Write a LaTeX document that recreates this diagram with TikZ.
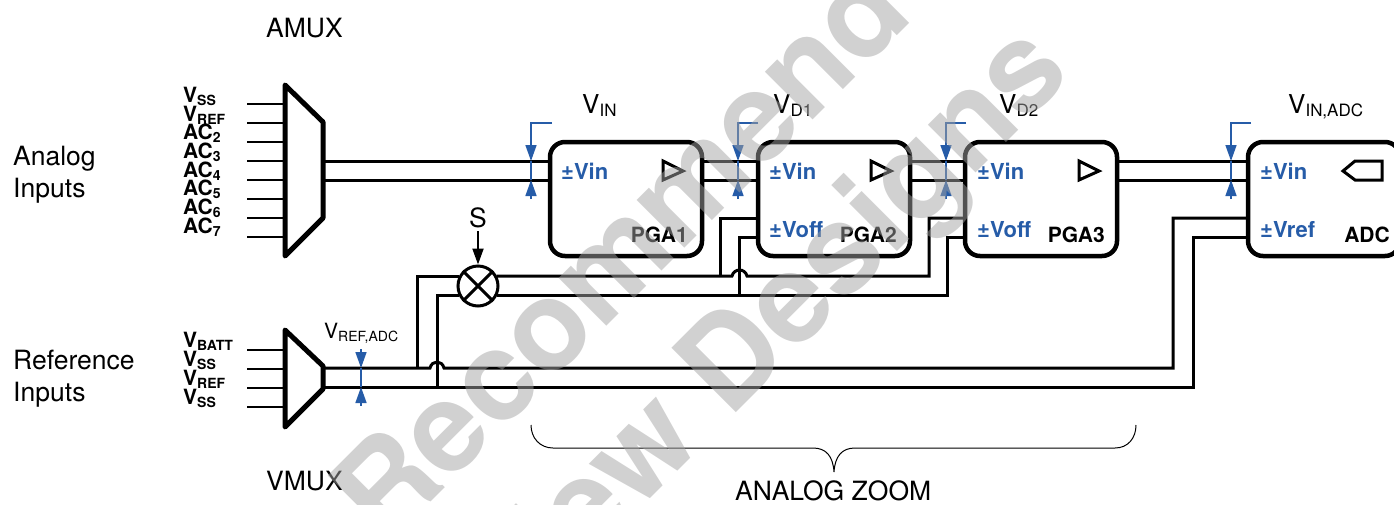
\documentclass[tikz,border=0pt]{standalone}
\usepackage{fontspec}
\setmainfont{TeX Gyre Heros}
\usetikzlibrary{arrows.meta}
\definecolor{senseblue}{RGB}{38,92,168}
\newcommand{\vlab}[4]{\fontsize{#3}{#3}\selectfont #1\raisebox{-3pt}{\fontsize{#4}{#4}\selectfont #2}}
\tikzset{
  txt/.style={anchor=base west,inner sep=0pt,font=\fontsize{26.5}{26.5}\selectfont},
  muxtxt/.style={anchor=base west,inner sep=0pt,font=\bfseries},
  pintxt/.style={anchor=base west,inner sep=0pt,text=senseblue,font=\bfseries\fontsize{22}{22}\selectfont},
  blocktxt/.style={anchor=base east,inner sep=0pt,font=\bfseries\fontsize{21}{21}\selectfont},
  block/.style={draw,line width=4.5pt,rounded corners=15pt,minimum height=114pt,inner sep=0pt},
  mux/.style={line width=5pt,line join=round},
  pin/.style={line width=1.8pt},
  wire/.style={line width=3pt},
  sense/.style={draw=senseblue,line width=1.5pt,-{Triangle[length=16pt,width=11pt]}},
  wmark/.style={anchor=base west,rotate=45,opacity=.5,text=black!36,inner sep=0pt,font=\bfseries\fontsize{125}{125}\selectfont}
}
\begin{document}
\begin{tikzpicture}[x=1pt,y=-1pt]
\useasboundingbox (0,0) rectangle (1394,504);
% blocks
\node[block,minimum width=152pt] (pga1) at (626,199) {};
\node[block,minimum width=152pt] (pga2) at (834,199) {};
\node[block,minimum width=152pt] (pga3) at (1041,199) {};
\node[block,minimum width=152pt] (adc) at (1324,199) {};
\node[draw,circle,line width=3pt,minimum size=40pt,inner sep=0pt] (mult) at (478,286) {};
\draw[line width=3pt] (mult.45) -- (mult.225);
\draw[line width=3pt] (mult.135) -- (mult.315);
% muxes
\coordinate (amuxa) at (323,161);
\coordinate (amuxb) at (323,180);
\coordinate (vmuxa) at (323,368);
\coordinate (vmuxb) at (323,387);
\draw[mux] (285,85) -- (323,122) -- (323,218) -- (285,256) -- cycle;
\draw[mux] (285,330) -- (323,366) -- (323,389) -- (285,427) -- cycle;
\foreach \y in {104,123,142,161,180,199,218,237}
  \draw[pin] (247,\y) -- (285,\y);
\foreach \y in {350,369,388,407}
  \draw[pin] (247,\y) -- (285,\y);
% signal path
\draw[wire] (amuxa) -- (pga1.west |- amuxa);
\draw[wire] (amuxb) -- (pga1.west |- amuxb);
\draw[wire] (pga1.east |- amuxa) -- (pga2.west |- amuxa);
\draw[wire] (pga1.east |- amuxb) -- (pga2.west |- amuxb);
\draw[wire] (pga2.east |- amuxa) -- (pga3.west |- amuxa);
\draw[wire] (pga2.east |- amuxb) -- (pga3.west |- amuxb);
\draw[wire] (pga3.east |- amuxa) -- (adc.west |- amuxa);
\draw[wire] (pga3.east |- amuxb) -- (adc.west |- amuxb);
% reference path
\draw[wire] (vmuxa) -- (430,368) .. controls (432,360) and (442,360) .. (444,368) -- (1173,368) -- (1173,218) -- (adc.west |- 0,218);
\draw[wire] (vmuxb) -- (1193,387) -- (1193,237) -- (adc.west |- 0,237);
\draw[wire] (417,368) -- (417,276) -- (mult.150 |- 0,276);
\draw[wire] (437,387) -- (437,295) -- (mult.210 |- 0,295);
% offset path
\draw[wire] (mult.30 |- 0,276) -- (732,276) .. controls (734,268) and (745,268) .. (747,276) -- (929,276) -- (929,218) -- (pga3.west |- 0,218);
\draw[wire] (mult.330 |- 0,295) -- (947,295) -- (947,237) -- (pga3.west |- 0,237);
\draw[wire] (720,276) -- (720,218) -- (pga2.west |- 0,218);
\draw[wire] (739,295) -- (739,237) -- (pga2.west |- 0,237);
\coordinate (stop) at (478,231);
\draw[line width=2pt,-{Triangle[length=16pt,width=11pt]}] (stop) -- (mult.north);
% amplifier symbols
\foreach \x in {663,871,1079}
  \draw[line width=3pt,line join=miter] (\x,161) -- (\x+20,171) -- (\x,180) -- cycle;
\draw[line width=3pt] (1343,171) -- (1355,161) -- (1382,161) -- (1382,180) -- (1355,180) -- cycle;
% sense marks
\foreach \x/\w in {531/552,738/758,946/966,1231/1251} {
  \draw[sense] (\w,123) -- (\x,123) -- (\x,161);
  \draw[sense] (\x,199) -- (\x,180);
  \draw[senseblue,line width=1.5pt] (\x,161) -- (\x,180);
}
\draw[sense] (361,349) -- (361,368);
\draw[sense] (361,406) -- (361,387);
\draw[senseblue,line width=1.5pt] (361,368) -- (361,387);
% labels
\node[txt] (amuxlab) at (266,37) {AMUX};
\node[txt] (vmuxlab) at (266,490) {VMUX};
\node[txt] (ana) at (13,165) {Analog};
\node[txt] (anb) at (13,197) {Inputs};
\node[txt] (refa) at (13,369) {Reference};
\node[txt] (refb) at (13,401) {Inputs};
\node[txt] (zoomlab) at (735,500) {ANALOG ZOOM};
\node[txt] (slab) at (469,227) {S};
\node[txt] (vin) at (582,113) {\vlab{V}{IN}{26}{17}};
\node[txt] (vda) at (773,113) {\vlab{V}{D1}{26}{17}};
\node[txt] (vdb) at (999,113) {\vlab{V}{D2}{26}{17}};
\node[txt] (vinadc) at (1288,113) {\vlab{V}{IN,ADC}{26}{17}};
\node[txt] (vrefadc) at (324,338) {\vlab{V}{REF,ADC}{21}{14}};
\node[muxtxt] (ama) at (183,102) {\vlab{V}{SS}{21}{14}};
\node[muxtxt] (amb) at (183,121) {\vlab{V}{REF}{21}{14}};
\foreach \i/\y in {2/139,3/158,4/177,5/195,6/214,7/233}
  \node[muxtxt] (am\i) at (183,\y) {\vlab{AC}{\i}{21}{14}};
\node[muxtxt] (vma) at (183,347) {\vlab{V}{BATT}{21}{14}};
\node[muxtxt] (vmb) at (183,366) {\vlab{V}{SS}{21}{14}};
\node[muxtxt] (vmc) at (183,385) {\vlab{V}{REF}{21}{14}};
\node[muxtxt] (vmd) at (183,404) {\vlab{V}{SS}{21}{14}};
\node[pintxt] (ain) at (561,179) {±Vin};
\node[pintxt] (bin) at (769,179) {±Vin};
\node[pintxt] (cin) at (977,179) {±Vin};
\node[pintxt] (din) at (1260,179) {±Vin};
\node[pintxt] (boff) at (769,237) {±Voff};
\node[pintxt] (coff) at (977,237) {±Voff};
\node[pintxt] (dref) at (1260,237) {±Vref};
\node[blocktxt] (alab) at (688,242) {PGA1};
\node[blocktxt] (blab) at (897,242) {PGA2};
\node[blocktxt] (clab) at (1105,242) {PGA3};
\node[blocktxt] (dlab) at (1390,242) {ADC};
% brace
\draw[line width=1pt] (531,425) .. controls (531,438) and (540,448) .. (553,448) -- (813,448) .. controls (826,448) and (833,456) .. (834,472) .. controls (835,456) and (842,448) .. (855,448) -- (1115,448) .. controls (1128,448) and (1136,438) .. (1136,425);
% watermark
\begin{scope}
\clip (0,0) rectangle (1394,504);
\node[wmark] (wma) at (385,548) {Recommend};
\node[wmark] (wmb) at (522,627) {New Designs};
\end{scope}
\end{tikzpicture}
\end{document}
